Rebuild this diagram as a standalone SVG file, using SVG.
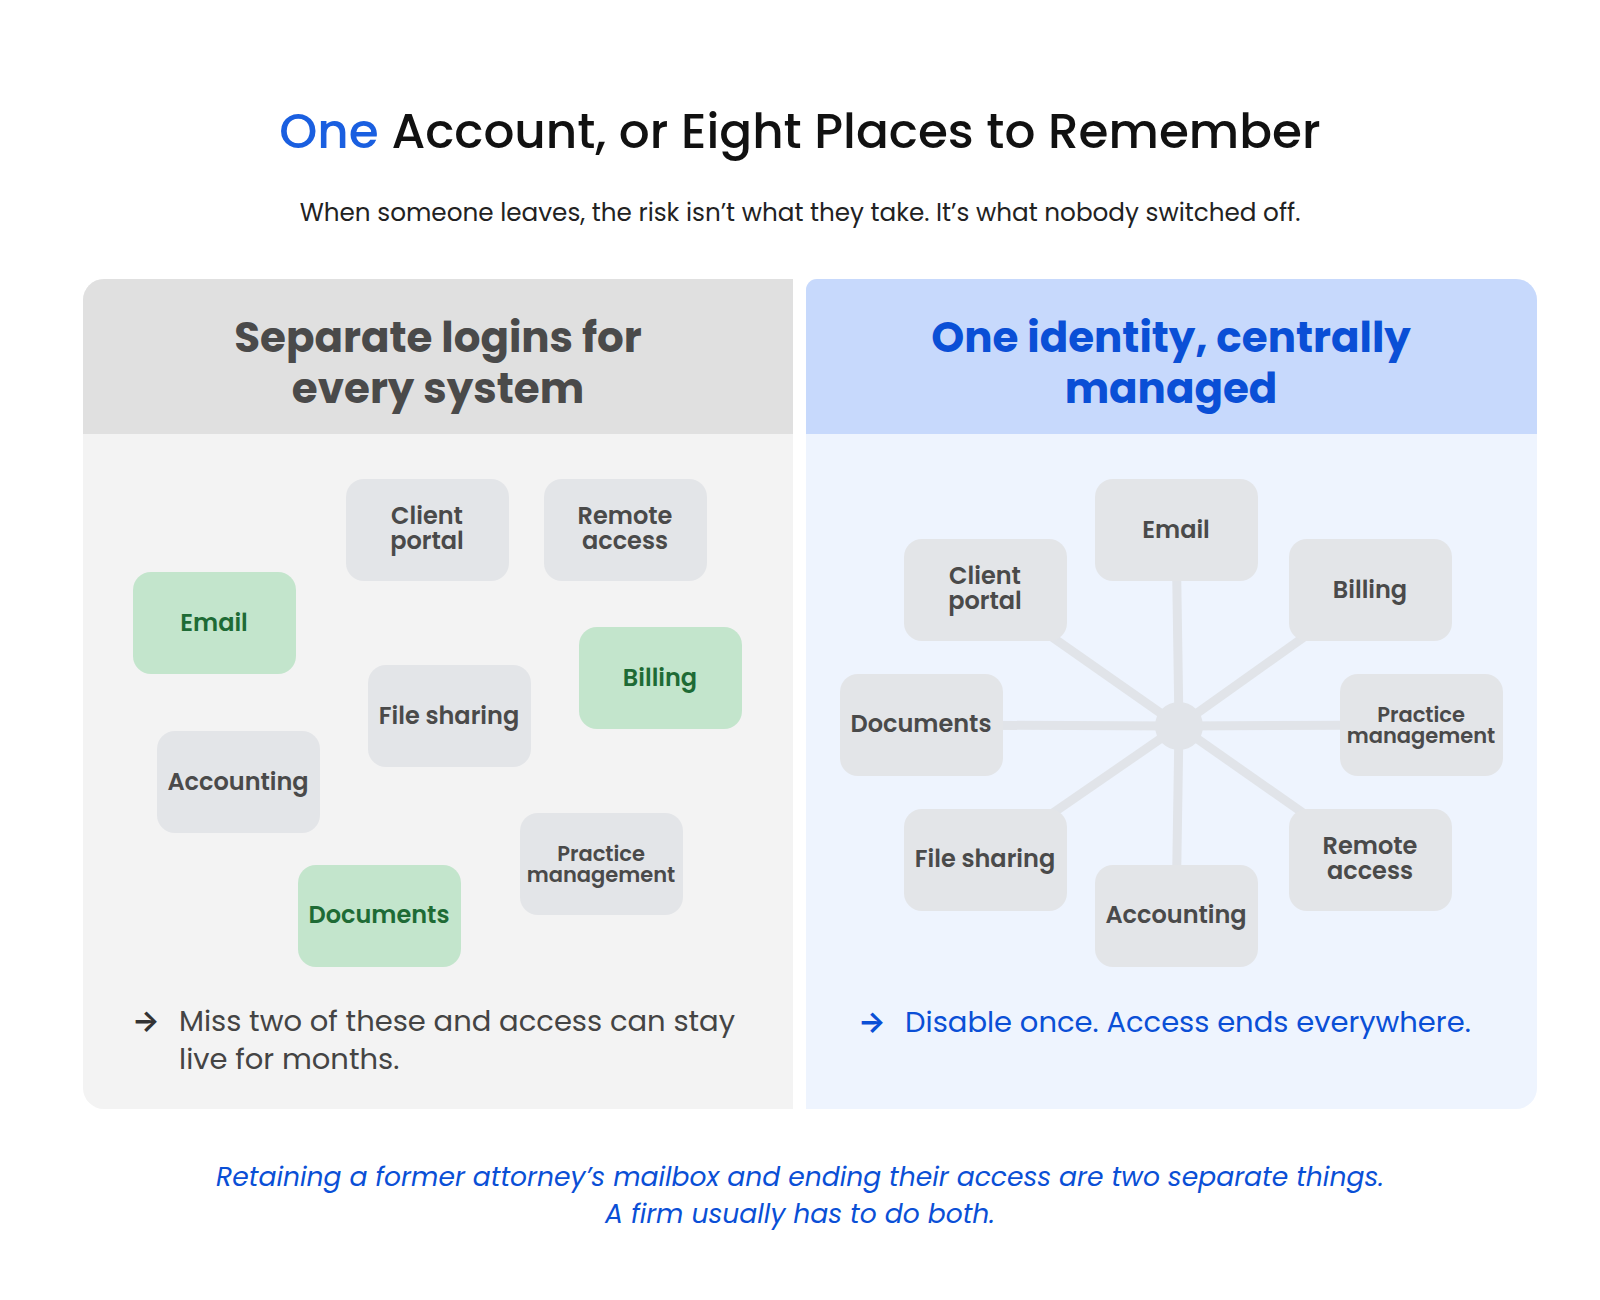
<svg xmlns="http://www.w3.org/2000/svg" width="1600" height="1300" viewBox="0 0 1600 1300">
<style>
text{font-family:Poppins,"Inter","Noto Sans",sans-serif}
.n rect{fill:#e3e5e8}
.n text{fill:#4a4a4a;font-size:24px;font-weight:600;text-anchor:middle}
.n text.s{font-size:21px}
.g rect{fill:#c3e5cc}
.g text{fill:#1e6b35}
.sp{stroke:#e1e4e9;stroke-width:9}
</style>
<rect width="1600" height="1300" fill="#fff"/>
<text x="800" y="148" font-size="48.5" font-weight="500" text-anchor="middle" fill="#111"><tspan fill="#1a5fe0">One</tspan> Account, or Eight Places to Remember</text>
<text x="800" y="221" font-size="24.7" text-anchor="middle" fill="#222">When someone leaves, the risk isn’t what they take. It’s what nobody switched off.</text>
<path d="M83 300a21 21 0 0 1 21-21H793V1109H104a21 21 0 0 1-21-21Z" fill="#f3f3f3"/>
<path d="M83 300a21 21 0 0 1 21-21H793V434H83Z" fill="#e0e0e0"/>
<path d="M806 290a11 11 0 0 1 11-11H1516a21 21 0 0 1 21 21V1088a21 21 0 0 1-21 21H806Z" fill="#eef4fe"/>
<path d="M806 290a11 11 0 0 1 11-11H1516a21 21 0 0 1 21 21V434H806Z" fill="#c7d9fc"/>
<g font-size="42" font-weight="700" text-anchor="middle">
<text x="438" y="352" fill="#4a4a4a">Separate logins for</text>
<text x="438" y="403" fill="#4a4a4a">every system</text>
<text x="1171" y="352" fill="#0a4fd6">One identity, centrally</text>
<text x="1171" y="403" fill="#0a4fd6">managed</text>
</g>
<g id="connectors" class="sp">
<line x1="1179" y1="726" x2="1176" y2="530"/>
<line x1="1179" y1="726" x2="985" y2="590"/>
<line x1="1179" y1="726" x2="1370" y2="590"/>
<line x1="1179" y1="726" x2="921" y2="725"/>
<line x1="1179" y1="726" x2="1421" y2="725"/>
<line x1="1179" y1="726" x2="985" y2="860"/>
<line x1="1179" y1="726" x2="1370" y2="860"/>
<line x1="1179" y1="726" x2="1176" y2="916"/>
<circle cx="1179" cy="726" r="24" fill="#e1e4e9" stroke="none"/>
</g>
<g id="l-client" class="n"><rect x="346" y="479" width="163" height="102" rx="18"/><text x="427" y="524">Client</text><text x="427" y="549">portal</text></g>
<g id="l-remote" class="n"><rect x="544" y="479" width="163" height="102" rx="18"/><text x="625" y="524">Remote</text><text x="625" y="549">access</text></g>
<g id="l-email" class="n g"><rect x="133" y="572" width="163" height="102" rx="18"/><text x="214" y="631">Email</text></g>
<g id="l-billing" class="n g"><rect x="579" y="627" width="163" height="102" rx="18"/><text x="660" y="686">Billing</text></g>
<g id="l-files" class="n"><rect x="368" y="665" width="163" height="102" rx="18"/><text x="449" y="724">File sharing</text></g>
<g id="l-acct" class="n"><rect x="157" y="731" width="163" height="102" rx="18"/><text x="238" y="790">Accounting</text></g>
<g id="l-pm" class="n"><rect x="520" y="813" width="163" height="102" rx="18"/><text class="s" x="601" y="861">Practice</text><text class="s" x="601" y="882">management</text></g>
<g id="l-docs" class="n g"><rect x="298" y="865" width="163" height="102" rx="18"/><text x="379" y="923">Documents</text></g>
<g id="r-email" class="n"><rect x="1095" y="479" width="163" height="102" rx="18"/><text x="1176" y="538">Email</text></g>
<g id="r-client" class="n"><rect x="904" y="539" width="163" height="102" rx="18"/><text x="985" y="584">Client</text><text x="985" y="609">portal</text></g>
<g id="r-billing" class="n"><rect x="1289" y="539" width="163" height="102" rx="18"/><text x="1370" y="598">Billing</text></g>
<g id="r-docs" class="n"><rect x="840" y="674" width="163" height="102" rx="18"/><text x="921" y="732">Documents</text></g>
<g id="r-pm" class="n"><rect x="1340" y="674" width="163" height="102" rx="18"/><text class="s" x="1421" y="722">Practice</text><text class="s" x="1421" y="743">management</text></g>
<g id="r-files" class="n"><rect x="904" y="809" width="163" height="102" rx="18"/><text x="985" y="867">File sharing</text></g>
<g id="r-remote" class="n"><rect x="1289" y="809" width="163" height="102" rx="18"/><text x="1370" y="854">Remote</text><text x="1370" y="879">access</text></g>
<g id="r-acct" class="n"><rect x="1095" y="865" width="163" height="102" rx="18"/><text x="1176" y="923">Accounting</text></g>
<g font-size="29">
<text x="132" y="1031" fill="#333" font-weight="700">→</text>
<text x="179" y="1031" fill="#444">Miss two of these and access can stay</text>
<text x="179" y="1069" fill="#444">live for months.</text>
<text x="858" y="1032" fill="#0a4fd6" font-weight="700">→</text>
<text x="905" y="1032" fill="#0a4fd6">Disable once. Access ends everywhere.</text>
</g>
<g font-size="26.6" font-style="italic" fill="#0a4fd6" text-anchor="middle">
<text x="800" y="1186">Retaining a former attorney’s mailbox and ending their access are two separate things.</text>
<text x="800" y="1223">A firm usually has to do both.</text>
</g>
</svg>
